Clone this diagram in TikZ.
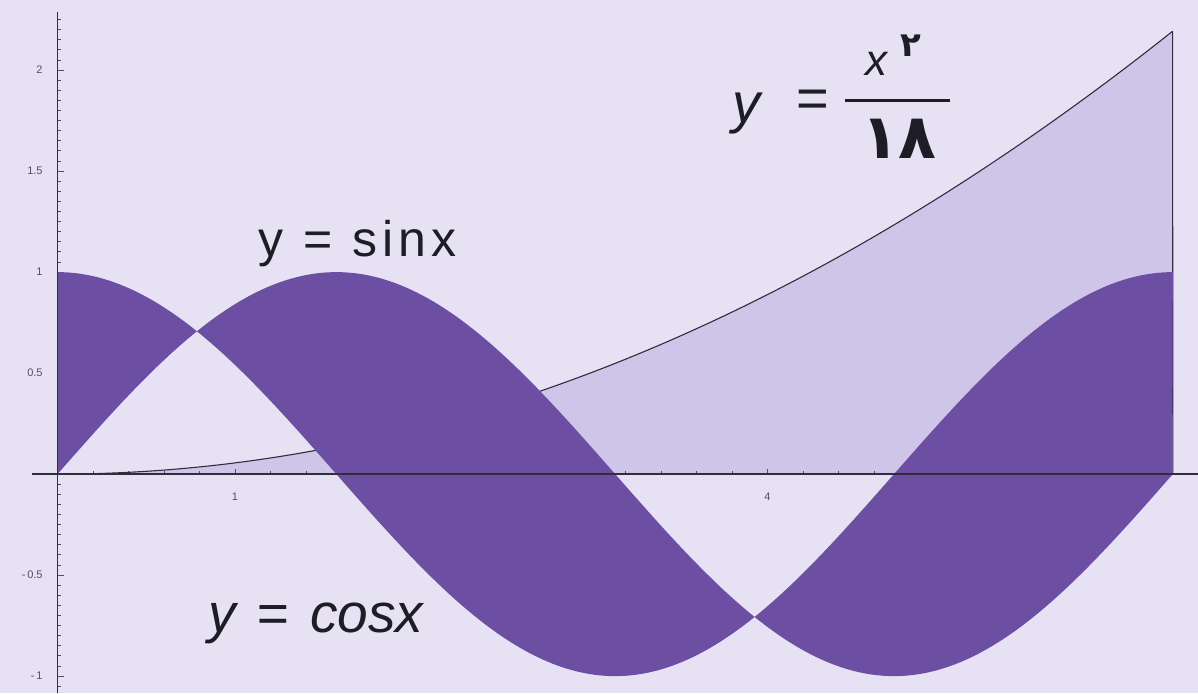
\documentclass[tikz,border=0pt]{standalone}
\usepackage{fontspec}
\setmainfont{Liberation Sans}
\newfontfamily\arabicfont{DejaVu Sans}
\definecolor{bgcol}{RGB}{230,226,244}
\definecolor{bandcol}{RGB}{108,78,162}
\definecolor{lightcol}{RGB}{206,197,233}
\definecolor{axiscol}{RGB}{50,45,60}
\definecolor{tickcol}{RGB}{85,80,95}
\definecolor{txtcol}{RGB}{30,28,36}
\begin{document}
\begin{tikzpicture}[x=88.75pt,y=101pt,
  axisline/.style={draw=axiscol,line width=0.8pt},
  tickline/.style={draw=tickcol,line width=0.45pt},
  ticklab/.style={text=tickcol,font=\fontsize{5.5}{6}\selectfont,inner sep=0pt},
  curveline/.style={draw=axiscol,line width=0.55pt},
  bigtext/.style={text=txtcol,inner sep=0pt}]
\useasboundingbox (-0.324,-1.084) rectangle (6.425,2.347);
\fill[bgcol] (-0.324,-1.084) rectangle (6.425,2.347);
% light region under the parabola
\fill[lightcol] plot[domain=0:2*pi,samples=150,smooth] (\x,{\x*\x/18}) -- (2*pi,0) -- (0,0) -- cycle;
% x ticks and labels
\foreach \i in {1,...,31} {\draw[tickline] (\i*0.2,0) -- ++(0,1.5pt);}
\foreach \i in {1,...,6} {\draw[tickline] (\i,0) -- ++(0,2.8pt);
  \node[ticklab] (xl\i) at (\i,-0.114) {\i};}
% y ticks and labels
\foreach \i in {-21,...,45} {\draw[tickline] (0,\i*0.05) -- ++(1.6pt,0);}
\foreach \v/\s/\n in {2/2/a,1.5/1.5/b,1/1/c,0.5/0.5/d,-0.5/{-\,0.5}/e,-1/{-\,1}/f} {
  \draw[tickline] (0,\v) -- ++(3pt,0);
  \node[ticklab,anchor=east] (yl\n) at (-0.082,\v) {\s};}
% parabola and right edge
\draw[curveline] plot[domain=0:2*pi,samples=150,smooth] (\x,{\x*\x/18}) coordinate (ptop);
\coordinate (pbot) at (2*pi,0);
\draw[curveline] (ptop) -- (pbot);
% band between sin and cos
\fill[bandcol] plot[domain=0:2*pi,samples=240] (\x,{sin(\x r)}) -- plot[domain=2*pi:0,samples=240] (\x,{cos(\x r)}) -- cycle;
% axes
\coordinate (xa) at (-0.144,0);
\coordinate (xb) at (6.425,0);
\coordinate (ya) at (0,-1.084);
\coordinate (yb) at (0,2.287);
\draw[axisline] (xa) -- (xb);
\draw[axisline] (ya) -- (yb);
% labels
\node[bigtext,anchor=base west,font=\fontsize{25}{27}\selectfont\addfontfeature{LetterSpace=10}] (sinlab) at (1.13,1.079) {y\hspace{10pt}=\hspace{10pt}sinx};
\node[bigtext,anchor=base west,font=\fontsize{27.5}{29}\selectfont\itshape] (coslab) at (0.848,-0.782) {y\hspace{10.5pt}=\hspace{10.5pt}cosx};
\node[bigtext,anchor=base west,font=\fontsize{28}{30}\selectfont\itshape] (fy) at (3.80,1.743) {y};
\node[bigtext,anchor=center,font=\fontsize{28}{30}\selectfont] (feq) at (4.255,1.832) {=};
\coordinate (bara) at (4.437,1.851);
\coordinate (barb) at (5.028,1.851);
\draw[draw=txtcol,line width=1.6pt] (bara) -- (barb);
\node[bigtext,anchor=base west,font=\fontsize{22}{24}\selectfont\itshape] (fx) at (4.549,1.975) {x};
\node[bigtext,anchor=center,font=\fontsize{17}{18}\selectfont\arabicfont\bfseries] (fsup) at (4.808,2.122) {٢};
\node[bigtext,anchor=center,font=\fontsize{31}{32}\selectfont\arabicfont\bfseries] (fden) at (4.740,1.660) {١٨};
\end{tikzpicture}
\end{document}
